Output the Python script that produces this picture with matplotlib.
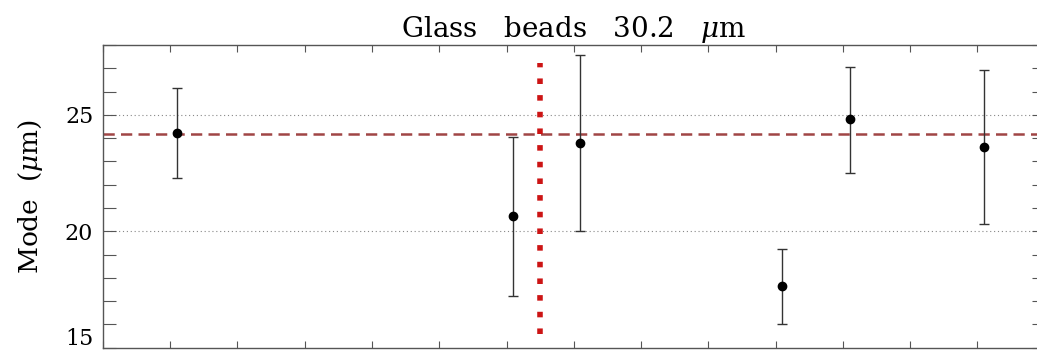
import matplotlib as mpl
from matplotlib import pyplot as plt
from matplotlib.transforms import ScaledTranslation

mpl.rcParams['font.family'] = 'DejaVu Serif'
mpl.rcParams['mathtext.fontset'] = 'dejavuserif'

run = [1.1, 6.1, 7.1, 10.1, 11.1, 13.1]
mode = [24.2, 20.65, 23.78, 17.63, 24.81, 23.64]
err_hi = [26.15, 24.07, 27.59, 19.25, 27.07, 26.92]
err_lo = [22.27, 17.2, 20.0, 16.02, 22.52, 20.33]
mean_mode = 24.17
split_x = 6.5
split_y = [15.6, 27.23]

fig = plt.figure(figsize=(10.37, 3.51), dpi=100)
ax = fig.add_axes([0.0993, 0.0094, 0.908, 0.8624])

yerr = [[m - lo for m, lo in zip(mode, err_lo)],
        [hi - m for m, hi in zip(mode, err_hi)]]
ax.errorbar(run, mode, yerr=yerr, fmt='o', color='black', ecolor='#333333',
            elinewidth=1.0, capsize=3.5, capthick=1.0, markersize=6, zorder=4)

ax.axhline(mean_mode, color='#a04545', linestyle=(0, (4.5, 2.5)), linewidth=1.8, zorder=2)
ax.plot([split_x, split_x], split_y, color='#cc1414', linestyle=(0, (1, 2)),
        linewidth=4.0, solid_capstyle='butt', zorder=3)

for yv in [20, 25]:
    ax.axhline(yv, color='#888888', linestyle=(0, (1, 2.5)), linewidth=0.8, zorder=1)

ax.set_xlim(0, 14)
ax.set_ylim(15, 28)
ax.set_xticks(range(0, 15))
ax.set_xticklabels([])
ax.set_yticks([15, 20, 25])
ax.set_yticks(range(15, 29), minor=True)
ax.tick_params(axis='x', which='both', direction='in', top=True, bottom=True,
               length=5, width=0.8, color='#555555')
ax.tick_params(axis='y', which='both', direction='in', left=True, right=True,
               length=9.5, width=0.8, color='#555555', labelsize=16, pad=7)
for s in ax.spines.values():
    s.set_color('#555555')
    s.set_linewidth(1.0)

# keep the bottom label inside the picture, as in the reference
lab15 = ax.get_yticklabels()[0]
lab15.set_verticalalignment('bottom')
lab15.set_transform(lab15.get_transform() + ScaledTranslation(0, -2 / 100, fig.dpi_scale_trans))

ax.set_ylabel(r'Mode  ($\mu$m)', fontsize=19, labelpad=14)
ax.set_title(r'Glass   beads   30.2   $\mu$m', fontsize=20, pad=5)

plt.savefig('out.png', dpi=100)
